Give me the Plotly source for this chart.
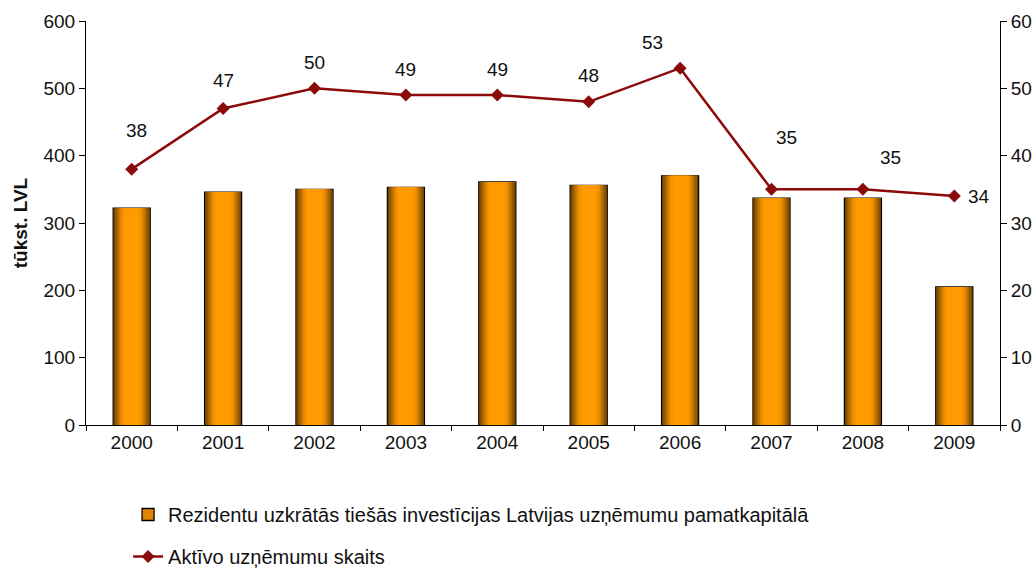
import plotly.graph_objects as go

years = ["2000", "2001", "2002", "2003", "2004", "2005", "2006", "2007", "2008", "2009"]
investments = [322, 346, 350, 353, 361, 356, 370, 337, 337, 205]
companies = [38, 47, 50, 49, 49, 48, 53, 35, 35, 34]
bar_name = "Rezidentu uzkrātās tiešās investīcijas Latvijas uzņēmumu pamatkapitālā"
line_name = "Aktīvo uzņēmumu skaits"

W, H = 1036, 576
plot_top, plot_bottom = 21, 425

fig = go.Figure()

# gradient-like bars via stacked widths (first layer carries the outline and legend swatch)
layers = [
    (0.405, "#e08600"), (0.395, "#6e4200"), (0.37, "#8e5600"), (0.33, "#ab6700"),
    (0.29, "#c97900"), (0.25, "#e68900"), (0.21, "#f79400"), (0.16, "#ff9a00"),
]
for i, (w, c) in enumerate(layers):
    fig.add_trace(go.Bar(
        x=years, y=investments, width=w,
        marker=dict(color=c,
                    line=dict(color="black", width=1.3) if i == 0 else dict(width=0)),
        name=bar_name, showlegend=(i == 0), legendgroup="a",
    ))

fig.add_trace(go.Scatter(
    x=years, y=companies, yaxis="y2", mode="lines+markers",
    line=dict(color="#8b0a0a", width=2.5),
    marker=dict(symbol="diamond", size=10, color="#8b0a0a"),
    name=line_name, legendgroup="b",
))

shifts = [(5, 39), (0, 28), (0, 26), (0, 26), (0, 26), (0, 26), (-28, 26), (15, 52), (28, 32), (25, 0)]
for idx, (v, (dx, dy)) in enumerate(zip(companies, shifts)):
    fig.add_annotation(x=idx, y=v, xref="x", yref="y2", text=str(v), showarrow=False,
                       xshift=dx, yshift=dy, font=dict(size=19, color="#111"))

dom = [(H - plot_bottom) / H, (H - plot_top) / H]

fig.update_layout(
    width=W, height=H,
    margin=dict(l=86, r=36, t=0, b=0),
    paper_bgcolor="white", plot_bgcolor="white",
    barmode="overlay",
    font=dict(family="Liberation Sans, Arial", size=19, color="#111"),
    xaxis=dict(type="category", tickson="boundaries", ticks="outside", ticklen=5,
               showline=True, linecolor="black", linewidth=1, tickcolor="black",
               showgrid=False, tickfont=dict(size=19), range=[-0.5, 9.5], automargin=False),
    yaxis=dict(range=[0, 600], dtick=100, ticks="outside", ticklen=6, domain=dom,
               showline=True, linecolor="black", linewidth=1, tickcolor="black",
               showgrid=False, zeroline=False, tickfont=dict(size=19), automargin=False,
               title=dict(text="<b>tūkst. LVL</b>", font=dict(size=19), standoff=10)),
    yaxis2=dict(range=[0, 60], dtick=10, overlaying="y", side="right", ticks="outside",
                ticklen=6, showline=True, linecolor="black", linewidth=1, tickcolor="black",
                showgrid=False, zeroline=False, tickfont=dict(size=19), automargin=False),
    legend=dict(orientation="v", x=0.046, y=0, xanchor="left", yanchor="bottom",
                traceorder="grouped", tracegroupgap=13, font=dict(size=20)),
    hovermode=False,
)

fig.write_html("out.html", config={"displayModeBar": False},
               post_script="document.body.style.margin='0px';document.body.style.overflow='hidden';")
